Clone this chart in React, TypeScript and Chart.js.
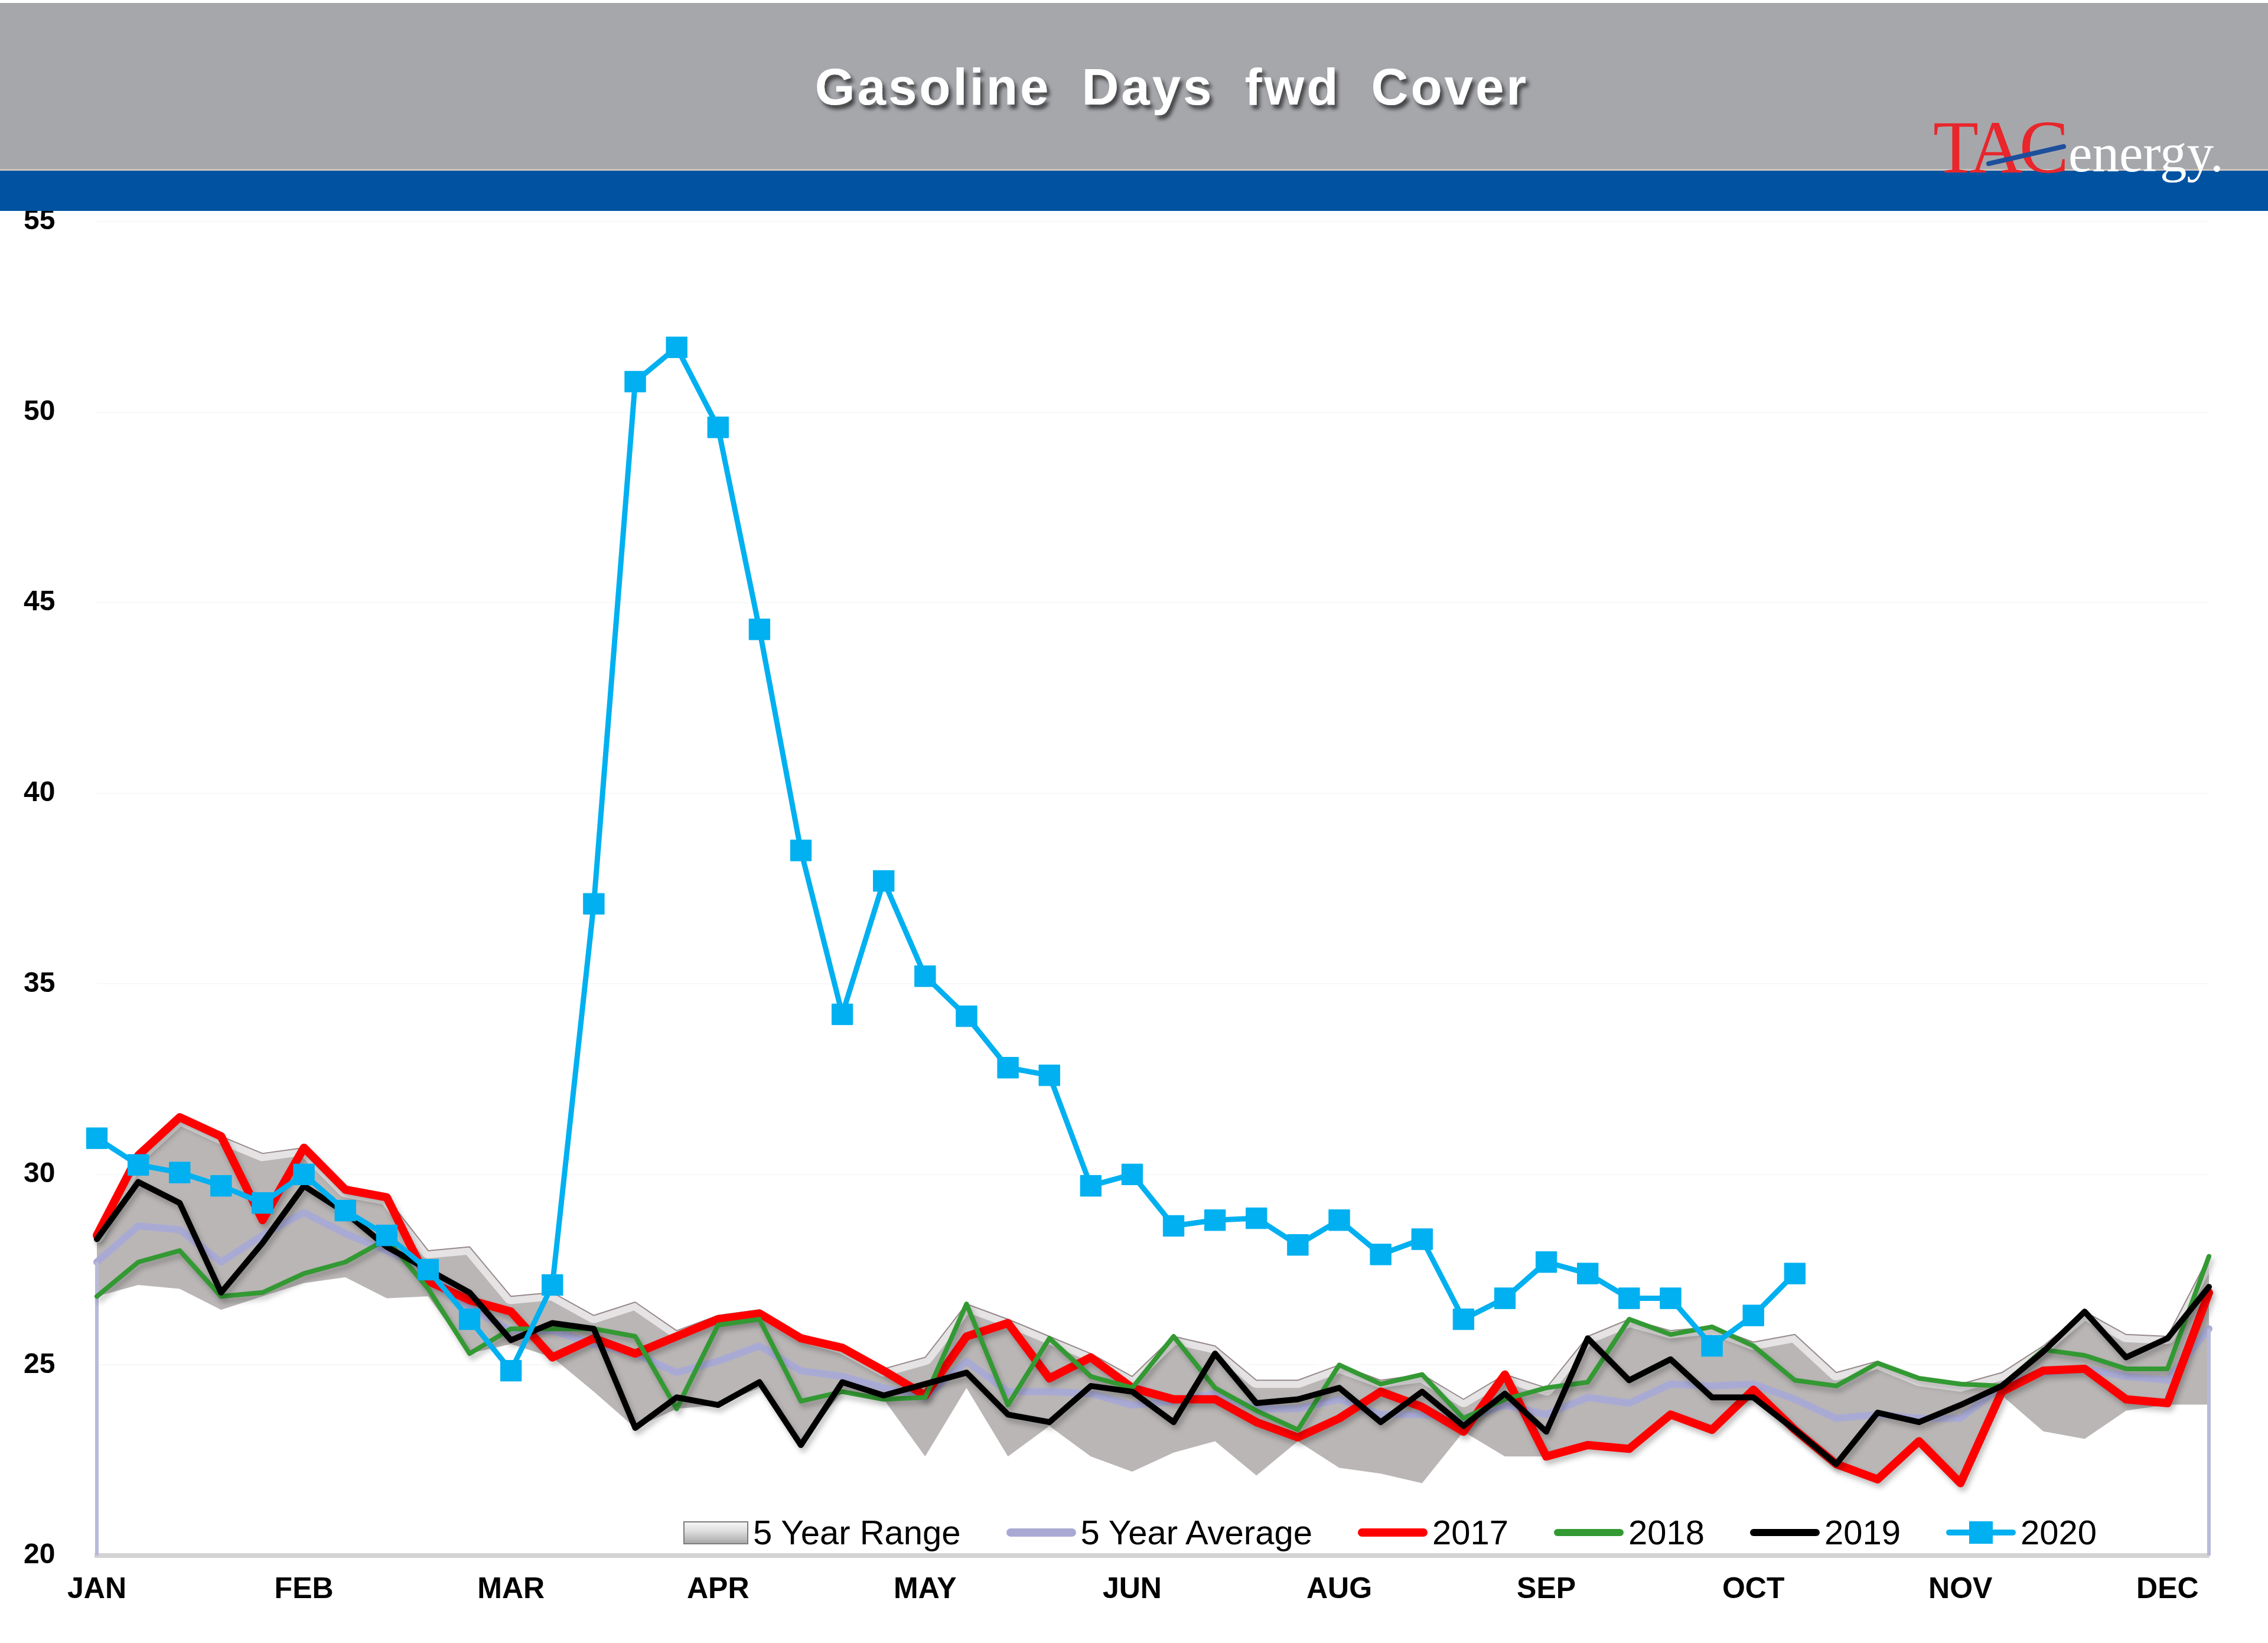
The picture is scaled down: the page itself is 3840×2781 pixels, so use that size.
import React, { useEffect, useRef } from 'react';
import { Chart, registerables } from 'chart.js';

Chart.register(...registerables);

// ---------- DATA ----------
const monthTicks = ['JAN', 'FEB', 'MAR', 'APR', 'MAY', 'JUN', 'AUG', 'SEP', 'OCT', 'NOV', 'DEC'];
const weeksPerTick = 5;
const weekCount = 52;
const categories: string[] = Array.from({ length: weekCount }, (_, i) =>
  i % weeksPerTick === 0 ? monthTicks[i / weeksPerTick] ?? '' : ''
);

const rangeHigh = [
  28.4, 30.5, 31.5, 31.0, 30.55, 30.7, 29.6, 29.4, 28.0, 28.1,
  26.8, 26.9, 26.3, 26.65, 25.9, 26.3, 26.45, 25.8, 25.5, 24.9,
  25.2, 26.6, 26.2, 25.75, 25.3, 24.7, 25.75, 25.5, 24.6, 24.6,
  25.0, 24.6, 24.75, 24.1, 24.75, 24.4, 25.75, 26.2, 25.9, 26.0,
  25.6, 25.8, 24.8, 25.1, 24.65, 24.5, 24.8, 25.5, 26.4, 25.8,
  25.75, 27.85,
];
const rangeLow = [
  26.8, 27.1, 27.0, 26.45, 26.8, 27.15, 27.3, 26.75, 26.8, 25.3,
  25.55, 25.2, 24.3, 23.35, 23.85, 23.95, 24.4, 22.9, 24.3, 24.1,
  22.6, 24.4, 22.6, 23.4, 22.6, 22.2, 22.7, 23.0, 22.1, 23.0,
  22.3, 22.15, 21.9, 23.25, 22.6, 22.6, 22.9, 22.8, 23.7, 23.3,
  24.15, 23.26, 22.36, 22.0, 23.0, 21.9, 24.2, 23.26, 23.06, 23.8,
  23.96, 23.96,
];
const avg5 = [
  27.7, 28.65, 28.55, 27.7, 28.4, 29.0, 28.45, 28.0, 27.5, 26.5,
  25.9, 25.9, 25.55, 25.3, 24.8, 25.1, 25.5, 24.85, 24.7, 24.4,
  24.15, 25.1, 24.3, 24.3, 24.25, 23.95, 24.05, 24.25, 23.85, 23.85,
  24.1, 23.7, 23.7, 23.6, 23.95, 23.7, 24.15, 24.0, 24.5, 24.45,
  24.5, 24.1, 23.6, 23.7, 23.6, 23.6, 24.45, 24.8, 24.9, 24.7,
  24.6, 25.95,
];
const s2017 = [
  28.4, 30.5, 31.5, 31.0, 28.8, 30.7, 29.6, 29.4, 27.2, 26.7,
  26.4, 25.2, 25.7, 25.3, 25.75, 26.2, 26.35, 25.7, 25.45, 24.85,
  24.2, 25.75, 26.1, 24.65, 25.2, 24.4, 24.1, 24.1, 23.5, 23.1,
  23.6, 24.3, 23.9, 23.25, 24.75, 22.6, 22.9, 22.8, 23.7, 23.3,
  24.35, 23.3, 22.4, 22.0, 23.0, 21.9, 24.3, 24.85, 24.9, 24.1,
  24.0, 26.9,
];
const s2018 = [
  26.8, 27.7, 28.0, 26.8, 26.9, 27.4, 27.7, 28.3, 27.0, 25.3,
  25.95, 25.95, 25.95, 25.75, 23.85, 26.05, 26.2, 24.05, 24.3, 24.1,
  24.15, 26.6, 23.95, 25.7, 24.7, 24.4, 25.75, 24.4, 23.8, 23.3,
  25.0, 24.5, 24.75, 23.6, 24.1, 24.4, 24.55, 26.2, 25.8, 26.0,
  25.5, 24.6, 24.45, 25.05, 24.65, 24.5, 24.45, 25.4, 25.25, 24.9,
  24.9, 27.85,
];
const s2019 = [
  28.3, 29.8, 29.25, 26.9, 28.2, 29.7, 29.0, 28.1, 27.5, 26.9,
  25.65, 26.1, 25.95, 23.35, 24.15, 23.95, 24.55, 22.9, 24.55, 24.2,
  24.5, 24.8, 23.7, 23.5, 24.45, 24.3, 23.5, 25.3, 24.0, 24.1,
  24.4, 23.5, 24.3, 23.4, 24.25, 23.25, 25.7, 24.6, 25.15, 24.15,
  24.15, 23.3, 22.4, 23.75, 23.5, 23.95, 24.45, 25.35, 26.4, 25.2,
  25.7, 27.05,
];
const s2020: (number | null)[] = [
  30.95, 30.25, 30.05, 29.7, 29.25, 30.0, 29.05, 28.4, 27.5, 26.2,
  24.85, 27.1, 37.1, 50.8, 51.7, 49.6, 44.3, 38.5, 34.2, 37.7,
  35.2, 34.15, 32.8, 32.6, 29.7, 30.0, 28.65, 28.8, 28.85, 28.15,
  28.8, 27.9, 28.3, 26.2, 26.75, 27.7, 27.4, 26.75, 26.75, 25.5,
  26.3, 27.4, null, null, null, null, null, null, null, null,
  null, null,
];
const yMin = 20;
const yMax = 55;
const yStep = 5;

const titleText = 'Gasoline Days fwd Cover';
const legendNames = ['5 Year Range', '5 Year Average', '2017', '2018', '2019', '2020'];

// ---------- STYLE ----------
const FONT = '"Liberation Sans", Arial, Helvetica, sans-serif';
const C_RANGE = '#bab6b6';
const C_AVG = '#a9aad4';
const C_2017 = '#ff0000';
const C_2018 = '#339933';
const C_2019 = '#000000';
const C_2020 = '#00b0f0';

const avgEdgesPlugin = {
  id: 'avgEdges',
  afterDatasetDraw(chart: any, args: any) {
    const ds = chart.data.datasets[args.index];
    if (ds.label !== '5 Year Average') return;
    const pts = args.meta.data;
    if (!pts || !pts.length) return;
    const { ctx, chartArea } = chart;
    ctx.save();
    ctx.strokeStyle = '#b9bad9';
    ctx.lineWidth = 6;
    [pts[0], pts[pts.length - 1]].forEach((p: any) => {
      ctx.beginPath();
      ctx.moveTo(p.x, p.y);
      ctx.lineTo(p.x, chartArea.bottom);
      ctx.stroke();
    });
    ctx.restore();
  },
};

const shadowPlugin = {
  id: 'lineShadow',
  beforeDatasetDraw(chart: any, args: any) {
    const ds = chart.data.datasets[args.index];
    if (ds.shadow) {
      const ctx = chart.ctx;
      ctx.save();
      ctx.shadowColor = 'rgba(0,0,0,0.25)';
      ctx.shadowBlur = 10;
      ctx.shadowOffsetX = 4;
      ctx.shadowOffsetY = 7;
    }
  },
  afterDatasetDraw(chart: any, args: any) {
    const ds = chart.data.datasets[args.index];
    if (ds.shadow) chart.ctx.restore();
  },
};

function ChartCanvas() {
  const ref = useRef<HTMLCanvasElement | null>(null);
  useEffect(() => {
    if (!ref.current) return;
    const lineBase = {
      pointRadius: 0,
      fill: false,
      tension: 0,
      clip: false as any,
      borderJoinStyle: 'round' as const,
      borderCapStyle: 'round' as const,
    };
    const chart = new Chart(ref.current, {
      type: 'line',
      data: {
        labels: categories,
        datasets: [
          { ...lineBase, label: 'range low', data: rangeLow, borderWidth: 0, borderColor: 'rgba(0,0,0,0)', order: 8 },
          {
            ...lineBase,
            label: '5 Year Range',
            data: rangeHigh,
            borderColor: 'rgba(255,255,255,0.62)',
            borderWidth: 26,
            backgroundColor: C_RANGE,
            fill: '-1',
            order: 7,
          },
          { ...lineBase, label: 'range edge', data: rangeHigh, borderColor: '#978a8b', borderWidth: 2, order: 6 },
          { ...lineBase, label: '5 Year Average', data: avg5, borderColor: C_AVG, borderWidth: 12, order: 5 },
          { ...lineBase, label: '2017', data: s2017, borderColor: C_2017, borderWidth: 14, order: 4, shadow: true } as any,
          { ...lineBase, label: '2018', data: s2018, borderColor: C_2018, borderWidth: 8, order: 3, shadow: true } as any,
          { ...lineBase, label: '2019', data: s2019, borderColor: C_2019, borderWidth: 10, order: 2, shadow: true } as any,
          {
            ...lineBase,
            label: '2020',
            data: s2020,
            borderColor: C_2020,
            backgroundColor: C_2020,
            borderWidth: 9,
            pointStyle: 'rect',
            pointRadius: 25,
            pointBorderWidth: 1,
            pointBackgroundColor: C_2020,
            pointBorderColor: C_2020,
            spanGaps: false,
            order: 1,
          },
        ],
      },
      options: {
        responsive: false,
        devicePixelRatio: 1,
        animation: false,
        events: [],
        layout: { padding: { left: 40, right: 100, top: 75, bottom: 0 } },
        plugins: {
          legend: { display: false },
          tooltip: { enabled: false },
          title: { display: false },
        },
        scales: {
          x: {
            type: 'category',
            offset: false,
            grid: { display: false, drawTicks: false },
            border: { display: true, color: '#d3d3d3', width: 8 },
            ticks: {
              autoSkip: false,
              maxRotation: 0,
              minRotation: 0,
              padding: 28,
              color: '#000',
              font: { family: FONT, size: 50, weight: 'bold' },
            },
            afterFit: (scale: any) => {
              scale.height = 148;
            },
          },
          y: {
            min: yMin,
            max: yMax,
            grid: { color: '#f7f7f7', lineWidth: 2, drawTicks: false },
            border: { display: false },
            ticks: {
              stepSize: yStep,
              padding: 10,
              crossAlign: 'far',
              color: '#000',
              font: { family: FONT, size: 48, weight: 'bold' },
            },
            afterFit: (scale: any) => {
              scale.width = 124;
            },
          },
        },
      } as any,
      plugins: [avgEdgesPlugin, shadowPlugin],
    });
    return () => chart.destroy();
  }, []);
  return <canvas ref={ref} width={3840} height={2481} style={{ display: 'block' }} />;
}

function LegendSwatch({ name }: { name: string }) {
  if (name === '5 Year Range') {
    return (
      <div
        style={{
          width: 106,
          height: 35,
          border: '2px solid #7c7c7c',
          background: 'linear-gradient(to bottom, #f6f6f6 0%, #dcdcdc 45%, #a9a9a9 100%)',
        }}
      />
    );
  }
  const colors: Record<string, string> = {
    '5 Year Average': C_AVG,
    '2017': C_2017,
    '2018': C_2018,
    '2019': C_2019,
    '2020': C_2020,
  };
  const thick: Record<string, number> = { '5 Year Average': 14, '2017': 14, '2018': 12, '2019': 12, '2020': 10 };
  return (
    <div style={{ position: 'relative', width: 118, height: 40 }}>
      <div
        style={{
          position: 'absolute',
          left: 0,
          right: 0,
          top: 20 - thick[name] / 2,
          height: thick[name],
          borderRadius: thick[name] / 2,
          background: colors[name],
        }}
      />
      {name === '2020' && (
        <div style={{ position: 'absolute', left: 39, top: 1, width: 40, height: 38, background: C_2020 }} />
      )}
    </div>
  );
}

export default function App() {
  useEffect(() => {
    document.body.style.margin = '0';
  }, []);
  return (
    <div
      style={{
        position: 'absolute',
        left: 0,
        top: 0,
        width: 3840,
        height: 2781,
        overflow: 'hidden',
        background: '#ffffff',
      }}
    >
      <div style={{ position: 'absolute', left: 0, top: 300, width: 3840, height: 2481 }}>
        <ChartCanvas />
      </div>
      <svg width={3840} height={357} style={{ position: 'absolute', left: 0, top: 0, zIndex: 2 }}>
        <defs>
          <filter id="tshadow" x="-5%" y="-30%" width="110%" height="170%">
            <feDropShadow dx="5" dy="7" stdDeviation="3" floodColor="#000" floodOpacity="0.6" />
          </filter>
        </defs>
        <rect x={0} y={5} width={3840} height={283} fill="#a6a7ab" />
        <rect x={0} y={286} width={3840} height={3} fill="#c9c3bf" />
        <rect x={0} y={289} width={3840} height={68} fill="#0153a2" />
        <text
          x={1984}
          y={177}
          textAnchor="middle"
          fill="#ffffff"
          fontFamily={FONT}
          fontWeight="bold"
          fontSize={87}
          letterSpacing={4}
          wordSpacing={24}
          filter="url(#tshadow)"
        >
          {titleText}
        </text>
        <text x={3273} y={292} fill="#e8262b" fontFamily='"Liberation Serif", "Times New Roman", serif' fontSize={126} letterSpacing={-6}>
          TAC
        </text>
        <line x1={3367} y1={277} x2={3494} y2={248} stroke="#1d4f9c" strokeWidth={8} strokeLinecap="round" />
        <text x={3502} y={290} fill="#ffffff" fontFamily='"Liberation Serif", "Times New Roman", serif' fontSize={91}>
          energy.
        </text>
      </svg>
      <div
        style={{
          position: 'absolute',
          left: 1157,
          top: 2565,
          height: 58,
          display: 'flex',
          alignItems: 'center',
          gap: 77,
          zIndex: 3,
          fontFamily: FONT,
          fontSize: 58,
          lineHeight: '58px',
          color: '#000',
          whiteSpace: 'nowrap',
        }}
      >
        {legendNames.map((n) => (
          <div key={n} style={{ display: 'flex', alignItems: 'center', gap: 8 }}>
            <LegendSwatch name={n} />
            <span>{n}</span>
          </div>
        ))}
      </div>
    </div>
  );
}
